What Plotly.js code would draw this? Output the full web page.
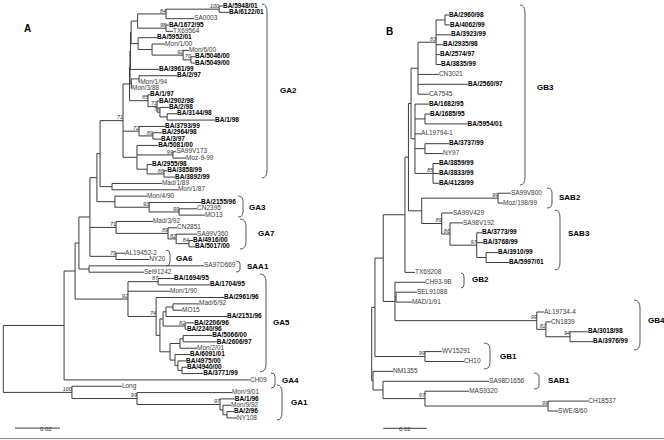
<!DOCTYPE html>
<html><head><meta charset="utf-8">
<script src="https://cdn.plot.ly/plotly-3.0.1.min.js"></script>
<style>html,body{margin:0;padding:0;background:#fff}#chart{width:664px;height:440px}</style>
</head><body><div id="chart"></div>
<script>
// ---------------- Tree A (depths in 0.001 substitutions/site from root) ----------------
const leftNode = [
"#R","#M","#W","#U","#P","#Q1","#Q2","#GA2","#L4","#L3","#L2","#L1",
"#A1","#A84","#A100","BA/5948/01","BA/6122/01","SA0003","#A98","BA/1672/95","TX69564",
"#B","BA/5952/01","#B2","Mon/1/00","#B92","Mon/6/00","#B70","BA/5046/00","BA/5049/00",
"BA/3961/99","#Cg","#C","BA/2/97","Mon/1/94","Mon/3/88",
"#D85","BA/1/97","#D71","BA/2902/98","#D78","BA/2/98","#De","BA/3144/98","BA/1/98",
"#E72","BA/3793/99","#E89","BA/2964/98","BA/3/97",
"#LOW","BA/5081/00","#F99","SA99V173","Moz-9-99","#F3","BA/2955/98","#F88","BA/3858/99","BA/3892/99",
"#MM","Mad/1/89","Mon/1/87","#G3","Mon/4/90","#N93","BA/2155/96","#N99b","CN2395","MO13",
"#N71","Mad/3/92","#N89","CN2851","#N82","SA99V360","#N84","BA/4916/00","BA/5017/00",
"#N79","AL19452-2","NY20","#S","SA97D669","Sel91242",
"#N92","#K87","BA/1694/95","BA/1704/95","Mon/1/90","#N74","BA/2961/96",
"#Na","#Nb","#N166","#Nmad","Mad/6/92","MO15","BA/2151/96","#N82b","BA/2206/96","BA/2240/96",
"#Nlow","#Nd","#Ne","BA/5066/00","BA/2606/97","Mon/2/01","#Nf","BA/6091/01","#Nh","BA/4975/00","#Ng","BA/4940/00","BA/3771/99",
"CH09","#G1","Long","#N99","Mon/9/01","#N97","BA/1/96","#N97b","Mon/9/92","#N97c","BA/2/96","NY108"
];
const leftParent = [
null,"#R","#M","#W","#U","#P","#Q1","#Q2","#GA2","#L4","#L3","#L2",
"#L1","#A1","#A84","#A100","#A100","#A84","#A1","#A98","#A98",
"#L1","#B","#B","#B2","#B2","#B92","#B92","#B70","#B70",
"#L2","#L3","#Cg","#C","#C","#Cg",
"#L4","#D85","#D85","#D71","#D71","#D78","#D78","#De","#De",
"#GA2","#E72","#E72","#E89","#E89",
"#GA2","#LOW","#LOW","#F99","#F99","#LOW","#F3","#F3","#F88","#F88",
"#Q2","#MM","#MM","#Q1","#G3","#G3","#N93","#N93","#N99b","#N99b",
"#P","#N71","#N71","#N89","#N89","#N82","#N82","#N84","#N84",
"#P","#N79","#N79","#U","#S","#S",
"#W","#N92","#K87","#K87","#N92","#N92","#N74",
"#N74","#Na","#Nb","#N166","#Nmad","#Nmad","#N166","#Nb","#N82b","#N82b",
"#Na","#Nlow","#Nd","#Ne","#Ne","#Nd","#Nlow","#Nf","#Nf","#Nh","#Nh","#Ng","#Ng",
"#M","#R","#G1","#G1","#N99","#N99","#N97","#N97","#N97b","#N97b","#N97c","#N97c"
];
const leftDepth = [
0,27.0,31.9,33.6,38.5,41.6,43.0,53.2,56.1,56.3,56.5,56.8,
59.7,72.3,95.9,97.6,100.3,84.8,72.3,73.6,75.4,
59.9,68.3,66.1,71.9,79.9,82.5,83.4,85.2,85.2,
69.2,56.9,60.3,77.2,60.8,57.2,
64.3,65.2,68.3,69.2,69.6,73.6,72.8,77.2,94.1,
60.3,71.9,66.5,70.5,70.1,
59.4,68.8,75.4,76.8,81.2,63.9,66.1,71.4,72.8,76.3,
48.3,70.5,77.6,49.6,63.9,64.8,87.9,78.1,86.1,89.6,
50.1,66.5,73.2,77.2,76.8,86.1,82.5,84.3,85.2,
50.1,54.1,64.8,38.1,89.2,62.5,
55.4,68.8,75.9,91.9,74.1,67.9,98.1,
69.6,71.0,72.3,75.4,87.0,79.4,99.4,80.8,84.8,81.6,
74.1,78.5,79.9,92.8,94.9,86.1,76.3,83.0,77.6,81.2,79.4,81.6,88.8,
109.6,30.5,52.7,59.4,101.6,96.3,102.9,97.6,101.2,99.4,102.5,103.9
];
const leftBootNode = ["#GA2","#A84","#A100","#A98","#B92","#B70","#D85","#D71","#D78","#E72","#E89","#F99","#F88","#N93","#N99b","#N71","#N89","#N82","#N84","#N79","#N92","#K87","#N74","#N82b","#G1","#N99","#N97"];
const leftBootValue = [71,84,100,98,92,70,85,71,78,72,89,99,88,93,99,71,89,82,84,79,92,87,74,82,100,99,97];

// ---------------- Tree B ----------------
const rightNode = [
"#R","#T","#n383","#n405","#n409","#GB3","#GB3a",
"#n83","#Na","BA/2960/98","BA/4062/99","BA/3923/99","BA/2935/98","BA/2574/97","BA/3835/99",
"CN3021","BA/2560/97","CA7545",
"#GB3c","BA/1682/95","#N1685","BA/1685/95","BA/5954/01","AL19794-1","#N3737","BA/3737/99","NY97","#N85","BA/3859/99","BA/3833/99","BA/4128/99",
"#SAB","#SAB2","SA99V800","Moz/198/99","#N89","SA99V429","#N86","SA98V192","#N97","BA/3773/99","BA/3768/99","#N3910","BA/3910/99","BA/5997/01",
"TX69208","#n395","CH93-9B","#NSM","SEL91088","MAD/1/91","#GB4","AL19734-4","#N82","CN1839","#N94","BA/3018/98","BA/3976/99",
"#GB1","WV15291","CH10","#NS","NM1355","#SAB1","SA98D1656","#N97b","MAS9320","#N99c","CH18537","SWE/8/60"
];
const rightParent = [
null,"#R","#T","#n383","#n405","#n409","#GB3",
"#GB3a","#n83","#Na","#Na","#n83","#n83","#n83","#n83",
"#GB3a","#GB3a","#GB3a",
"#GB3","#GB3c","#GB3c","#N1685","#N1685","#GB3c","#GB3c","#N3737","#N3737","#GB3c","#N85","#N85","#N85",
"#n409","#SAB","#SAB2","#SAB2","#SAB","#N89","#N89","#N86","#N86","#N97","#N97","#N97","#N3910","#N3910",
"#n405","#n383","#n395","#n395","#NSM","#NSM","#n395","#GB4","#GB4","#N82","#N82","#N94","#N94",
"#T","#GB1","#GB1","#R","#NS","#NS","#SAB1","#SAB1","#N97b","#N97b","#N99c","#N99c"
];
const rightDepth = [
0,1.5,5.3,15.3,16.9,18.1,21.3,
29.6,33.7,35.5,36.0,36.5,32.8,31.4,31.9,
30.9,44.3,26.3,
19.9,26.3,24.5,26.8,44.1,22.7,24.5,35.5,32.8,28.2,30.9,30.9,30.9,
23.0,58.1,64.0,60.4,32.2,37.4,36.0,42.0,48.3,50.7,51.2,52.6,58.1,63.1,
19.9,10.7,24.5,11.2,20.8,18.5,75.9,79.2,80.1,82.4,91.2,99.4,101.8,
24.5,32.3,42.4,0.6,9.8,5.2,54.0,24.5,44.8,81.1,99.6,85.7
];
const rightBootNode = ["#n83","#N85","#SAB2","#N89","#N86","#N97","#GB4","#N82","#N94","#GB1","#N97b","#N99c"];
const rightBootValue = [83,85,99,89,86,97,99,82,94,99,97,99];

// clade names
const leftClades = ["GA2","GA3","GA7","GA6","SAA1","GA5","GA4","GA1"];
const rightClades = ["GB3","SAB2","SAB3","GB2","GB4","GB1","SAB1"];
const scaleLabel = "0.02";
const scaleLength = 20; // 0.02 in 0.001 units

// ---------------- drawing ----------------
const FONT = "Liberation Sans, Arial, sans-serif";
const W = 664, H = 440;

function layoutTree(nodes, parents, depths) {
  const idx = {}; nodes.forEach((n,i)=>{ idx[n]=i; });
  const kids = nodes.map(()=>[]);
  parents.forEach((p,i)=>{ if (p !== null) kids[idx[p]].push(i); });
  const y = new Array(nodes.length); let leaf = 0;
  (function place(i){
    if (!kids[i].length) { y[i] = leaf++; return; }
    kids[i].forEach(place);
    const c = kids[i]; y[i] = (y[c[0]] + y[c[c.length-1]]) / 2;
  })(0);
  const lx = [], ly = [];
  nodes.forEach((n,i)=>{
    if (parents[i] !== null) { const p = idx[parents[i]]; lx.push(depths[p], depths[i], null); ly.push(y[i], y[i], null); }
    const c = kids[i];
    if (c.length) { lx.push(depths[i], depths[i], null); ly.push(y[c[0]], y[c[c.length-1]], null); }
  });
  return {idx, kids, y, lx, ly};
}

function treeTraces(nodes, parents, depths, bootNode, bootVal, xa, ya) {
  const t = layoutTree(nodes, parents, depths);
  const traces = [];
  traces.push({type:'scatter', mode:'lines', x:t.lx, y:t.ly, xaxis:xa, yaxis:ya,
    line:{color:'#3c3c3c', width:1}, hoverinfo:'skip', cliponaxis:false});
  const bx=[],by=[],bt=[],nx=[],ny=[],nt=[];
  nodes.forEach((n,i)=>{
    if (t.kids[i].length) return;
    if (n.startsWith('BA/')) { bx.push(depths[i]); by.push(t.y[i]); bt.push(n); }
    else { nx.push(depths[i]); ny.push(t.y[i]); nt.push(n); }
  });
  traces.push({type:'scatter', mode:'text', x:bx, y:by, text:bt, textposition:'middle right', xaxis:xa, yaxis:ya,
    textfont:{family:FONT, size:6.5, color:'#000', weight:'bold'}, hoverinfo:'skip', cliponaxis:false});
  traces.push({type:'scatter', mode:'text', x:nx, y:ny, text:nt, textposition:'middle right', xaxis:xa, yaxis:ya,
    textfont:{family:FONT, size:6.5, color:'#3a3a3a'}, hoverinfo:'skip', cliponaxis:false});
  traces.push({type:'scatter', mode:'text', x:bootNode.map(b=>depths[t.idx[b]]), y:bootNode.map(b=>t.y[t.idx[b]]),
    text:bootVal.map(String), textposition:'top left', xaxis:xa, yaxis:ya,
    textfont:{family:FONT, size:5.5, color:'#333', style:'italic'}, hoverinfo:'skip', cliponaxis:false});
  return traces;
}

// axis ranges chosen so the two trees fill the frame like the reference
const xL = [-1.47, 293.6], yL = [68.48, -0.947];
const xR = [-170.9, 134.4], yR = [42.93, -1.515];

const traces = [
  ...treeTraces(leftNode, leftParent, leftDepth, leftBootNode, leftBootValue, 'x', 'y'),
  ...treeTraces(rightNode, rightParent, rightDepth, rightBootNode, rightBootValue, 'x2', 'y2')
];
// scale bars
traces.push({type:'scatter', mode:'lines', x:[5.2, 5.2+scaleLength], y:[66.6,66.6], xaxis:'x', yaxis:'y', line:{color:'#3c3c3c', width:1}, hoverinfo:'skip'});
traces.push({type:'scatter', mode:'lines', x:[5.3, 5.3+scaleLength], y:[41.75,41.75], xaxis:'x2', yaxis:'y2', line:{color:'#3c3c3c', width:1}, hoverinfo:'skip'});

const px = (x)=>x/W, py = (y)=>1-y/H;
function bracket(x0, x1, y0, y1) {
  const r = Math.min(8, (y1-y0)/4);
  return {type:'path', xref:'paper', yref:'paper', line:{color:'#555', width:1},
    path:`M ${px(x0)},${py(y0)} Q ${px(x1)},${py(y0)} ${px(x1)},${py(y0+r)} L ${px(x1)},${py(y1-r)} Q ${px(x1)},${py(y1)} ${px(x0)},${py(y1)}`};
}
// bracket geometry: [x0, x1, y0, y1, labelX, labelY]
const leftBr = [[262,267,4,178,278,90],[238,243,196,217,247,207],[240,246,219,249,256,233],[166,170,250,266,174,258],
  [236,240,261,272,245,266],[260,266,274,372,271,322],[271,275,373,388,280,380],[277,282,385,420,289,402]];
const rightBr = [[520,525,5,185,535,88],[547,552,188,208,557,197],[555,560,210,270,566,233],[461,464,273,288,470,279],
  [634,640,300,350,646,320],[484,490,343,369,498,356],[534,539,373,389,546,380]];

const shapes = [], annotations = [];
leftBr.forEach((b,i)=>{ shapes.push(bracket(b[0],b[1],b[2],b[3]));
  annotations.push({xref:'paper', yref:'paper', x:px(b[4]), y:py(b[5]), text:leftClades[i], showarrow:false, xanchor:'left', yanchor:'middle',
    font:{family:FONT, size:8, color:'#000', weight:'bold'}}); });
rightBr.forEach((b,i)=>{ shapes.push(bracket(b[0],b[1],b[2],b[3]));
  annotations.push({xref:'paper', yref:'paper', x:px(b[4]), y:py(b[5]), text:rightClades[i], showarrow:false, xanchor:'left', yanchor:'middle',
    font:{family:FONT, size:8, color:'#000', weight:'bold'}}); });
shapes.push({type:'line', xref:'paper', yref:'paper', x0:0, x1:1, y0:py(438.5), y1:py(438.5), line:{color:'#8a8a8a', width:1}});
annotations.push({xref:'paper', yref:'paper', x:px(22), y:py(21), text:'A', showarrow:false, font:{family:FONT, size:10, color:'#000', weight:'bold'}});
annotations.push({xref:'paper', yref:'paper', x:px(389), y:py(24), text:'B', showarrow:false, font:{family:FONT, size:10, color:'#000', weight:'bold'}});
annotations.push({xref:'paper', yref:'paper', x:px(38), y:py(434), text:scaleLabel, showarrow:false, font:{family:FONT, size:6, color:'#333'}});
annotations.push({xref:'paper', yref:'paper', x:px(405), y:py(434), text:scaleLabel, showarrow:false, font:{family:FONT, size:6, color:'#333'}});

const ax = (range, extra)=>Object.assign({range, visible:false, fixedrange:true, showgrid:false, zeroline:false}, extra||{});
const layout = {
  width:W, height:H, margin:{l:0,r:0,t:0,b:0}, showlegend:false,
  paper_bgcolor:'#fff', plot_bgcolor:'#fff',
  xaxis: ax(xL), yaxis: ax(yL),
  xaxis2: ax(xR, {overlaying:'x', anchor:'y2'}), yaxis2: ax(yR, {overlaying:'y', anchor:'x2'}),
  shapes, annotations
};
Plotly.newPlot('chart', traces, layout, {staticPlot:true, displayModeBar:false});
</script>
</body></html>
